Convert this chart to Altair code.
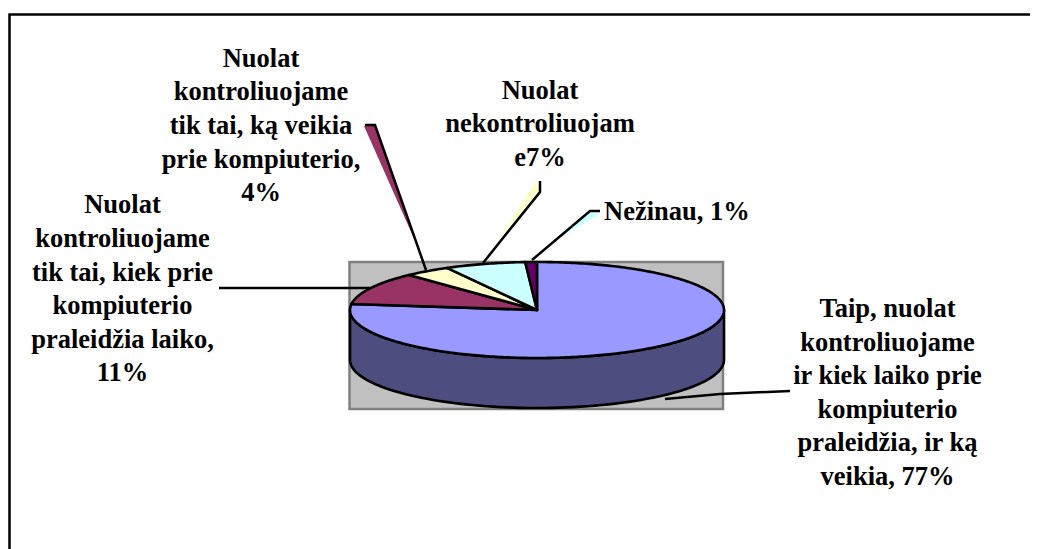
import math
import altair as alt

# ---- values ----
categories = [
    "Taip, nuolat kontroliuojame ir kiek laiko prie kompiuterio praleidžia, ir ką veikia",
    "Nuolat kontroliuojame tik tai, kiek prie kompiuterio praleidžia laiko",
    "Nuolat kontroliuojame tik tai, ką veikia prie kompiuterio",
    "Nuolat nekontroliuojame",
    "Nežinau",
]
shares = [77, 11, 4, 7, 1]
colors = ["#9999FF", "#993366", "#FFFFCC", "#CCFFFF", "#660066"]
label_lines = [
    ["Taip, nuolat", "kontroliuojame", "ir kiek laiko prie", "kompiuterio", "praleidžia, ir ką", "veikia, 77%"],
    ["Nuolat", "kontroliuojame", "tik tai, kiek prie", "kompiuterio", "praleidžia laiko,", "11%"],
    ["Nuolat", "kontroliuojame", "tik tai, ką veikia", "prie kompiuterio,", "4%"],
    ["Nuolat", "nekontroliuojam", "e7%"],
    ["Nežinau, 1%"],
]

# ---- layout (reference-image pixels) ----
W, H = 1022, 541
CX, CY, RX, RY, DEPTH = 537, 310, 187, 48, 50
PLOT_BOX = (349.5, 262, 723, 409)
FONT = "Liberation Serif"
FS = 26.5
LINE_H = 33.6
label_anchor = [(887.5, 317, "center"), (122.5, 213.3, "center"), (261, 66.7, "center"), (540, 98.5, "center"), (604, 220, "left")]
leaders = [
    [(665, 399), (720, 394), (790, 391)],
    [(219, 288), (370, 288)],
    [(365, 125), (375, 125), (426, 270)],
    [(540, 181), (540, 192), (483, 263)],
    [(600, 211), (590, 211), (532, 260)],
]
# coloured slivers beside three leaders: (index of the slice colour, outline)
shadows = [
    (1, [(364, 126), (375, 126), (420, 252)]),
    (2, [(536, 181), (539, 191), (497, 241)]),
    (3, [(600, 214), (590, 212), (556, 240)]),
]


def pt(turn, dy=0):
    a = 2 * math.pi * turn
    return [round(CX + RX * math.sin(a), 2), round(CY - RY * math.cos(a) + dy, 2)]


def feature(name, coords):
    return {"type": "Feature", "properties": {"name": name},
            "geometry": {"type": "Polygon", "coordinates": [coords]}}


total = sum(shares)
slices = []
acc = 0
for c, s in zip(categories, shares):
    start, end = acc / total, (acc + s) / total
    n = max(3, int(s * 4))
    arc = [pt(start + (end - start) * i / n) for i in range(n + 1)]
    ring = [[CX, CY]] + arc + [[CX, CY]]
    slices.append(feature(c, ring))
    acc += s

front = [i / 160 for i in range(40, 121)]
wall_ring = [pt(t) for t in front] + [pt(t, DEPTH) for t in reversed(front)]
wall_ring.append(wall_ring[0])

sw = [feature(categories[i], [list(p) for p in poly] + [list(poly[0])]) for i, poly in shadows]

PROJ = dict(type="identity", scale=1, translate=[-8, -8])
xs = alt.Scale(domain=[8, 8 + W], range=[0, W])
ys = alt.Scale(domain=[8, 8 + H], range=[0, H])


def geo(features):
    return alt.InlineData(values={"type": "FeatureCollection", "features": features},
                          format=alt.DataFormat(property="features", type="json"))


color_scale = alt.Scale(domain=categories, range=colors)

box_layer = alt.Chart(alt.Data(values=[{"x": PLOT_BOX[0], "y": PLOT_BOX[1], "x2": PLOT_BOX[2], "y2": PLOT_BOX[3]}])).mark_rect(
    fill="#C0C0C0", stroke="#808080", strokeWidth=2.5).encode(
    x=alt.X("x:Q", scale=xs, axis=None), y=alt.Y("y:Q", scale=ys, axis=None), x2="x2:Q", y2="y2:Q")

shadow_layer = alt.Chart(geo(sw)).mark_geoshape(strokeWidth=0).encode(
    color=alt.Color("properties.name:N", scale=color_scale, legend=None)).project(**PROJ)

leader_rows = [{"id": i, "ord": j, "x": p[0], "y": p[1]} for i, l in enumerate(leaders) for j, p in enumerate(l)]
leader_layer = alt.Chart(alt.Data(values=leader_rows)).mark_line(color="black", strokeWidth=2.5).encode(
    x=alt.X("x:Q", scale=xs, axis=None), y=alt.Y("y:Q", scale=ys, axis=None),
    detail="id:N", order="ord:Q")

wall_layer = alt.Chart(geo([feature("wall", wall_ring)])).mark_geoshape(
    fill="#4D4D80", stroke="black", strokeWidth=2.6, strokeJoin="round").project(**PROJ)

pie_layer = alt.Chart(geo(slices)).mark_geoshape(stroke="black", strokeWidth=2.6, strokeJoin="round").encode(
    color=alt.Color("properties.name:N", scale=color_scale, legend=None)).project(**PROJ)

text_rows = []
for lines, (x, y, al) in zip(label_lines, label_anchor):
    for k, line in enumerate(lines):
        text_rows.append({"t": line, "x": x, "y": y + k * LINE_H, "al": al})
text_layers = [
    alt.Chart(alt.Data(values=[r for r in text_rows if r["al"] == al])).mark_text(
        font=FONT, fontSize=FS, fontWeight="bold", color="black", align=al, baseline="alphabetic").encode(
        x=alt.X("x:Q", scale=xs, axis=None), y=alt.Y("y:Q", scale=ys, axis=None), text="t:N")
    for al in ("center", "left")
]

frame_rows = [{"id": 0, "ord": 0, "x": 9.5, "y": 549}, {"id": 0, "ord": 1, "x": 9.5, "y": 14.5},
              {"id": 0, "ord": 2, "x": 1038, "y": 14.5}]
frame_layer = alt.Chart(alt.Data(values=frame_rows)).mark_line(color="black", strokeWidth=2.5).encode(
    x=alt.X("x:Q", scale=xs, axis=None), y=alt.Y("y:Q", scale=ys, axis=None),
    detail="id:N", order="ord:Q")

chart = alt.layer(frame_layer, box_layer, shadow_layer, leader_layer, wall_layer, pie_layer, *text_layers).resolve_scale(
    color="independent"
).properties(
    width=W, height=H, padding=0, autosize=alt.AutoSizeParams(type="none")
).configure_view(stroke=None)

chart.save("out.html", embed_options={"renderer": "svg", "actions": False})
